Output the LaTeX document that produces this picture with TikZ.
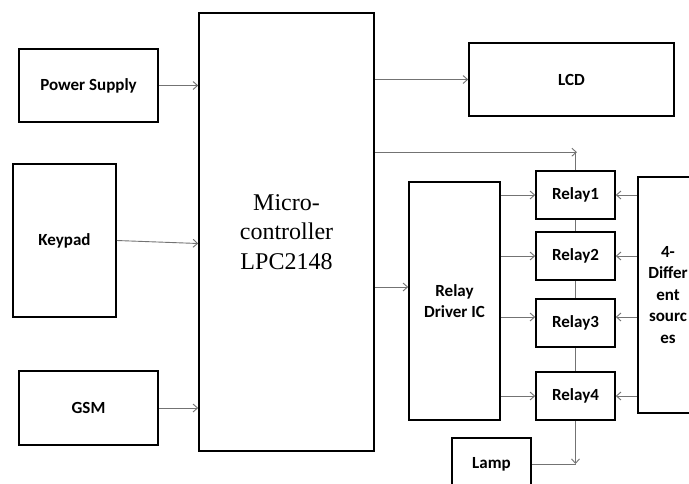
\documentclass[tikz,border=0pt]{standalone}
\usepackage{fontspec}
\setmainfont{Carlito}
\newfontfamily\serifit{Liberation Serif}
\usetikzlibrary{arrows.meta,calc}
\begin{document}
\begin{tikzpicture}[x=1pt,y=-1pt,
  blk/.style={draw=black,line width=1.6pt,fill=white,inner sep=0pt,align=center,
    font=\fontsize{17}{21.5}\selectfont\bfseries},
  conn/.style={draw=black!55,line width=0.9pt},
  arr/.style={conn,-{Straight Barb[length=4.5pt,width=8pt,line width=0.9pt]}}]
\clip (0,0) rectangle (689,483);
\fill[white] (0,0) rectangle (689,483);
\node[blk,minimum width=139pt,minimum height=73pt] (ps) at (88.5,85.5) {Power Supply};
\node[blk,minimum width=103pt,minimum height=153pt] (keypad) at (64.5,240.5) {Keypad};
\node[blk,minimum width=139pt,minimum height=74pt] (gsm) at (88.5,408) {GSM};
\node[blk,minimum width=175pt,minimum height=438pt,
  font=\serifit\fontsize{24}{29.5}\selectfont] (micro) at (286.5,232) {Micro-\\controller\\LPC2148};
\node[blk,minimum width=205pt,minimum height=73pt] (lcd) at (571.5,79.5) {LCD};
\node[blk,minimum width=91pt,minimum height=238pt] (driver) at (454.5,301) {Relay\\Driver IC};
\node[blk,minimum width=79pt,minimum height=48pt] (r1) at (575.5,195) {Relay1};
\node[blk,minimum width=79pt,minimum height=48pt] (r2) at (575.5,256) {Relay2};
\node[blk,minimum width=79pt,minimum height=48pt] (r3) at (575.5,323) {Relay3};
\node[blk,minimum width=79pt,minimum height=48pt] (r4) at (575.5,396) {Relay4};
\node[blk,minimum width=60pt,minimum height=236pt] (src) at (668,295) {4-\\Differ\\ent\\sourc\\es};
\node[blk,minimum width=79pt,minimum height=52pt] (lamp) at (491.5,464) {Lamp};
% inputs to micro
\draw[arr] (ps.east) -- (micro.west |- ps.east);
\draw[arr] (keypad.east) -- ($(micro.west |- keypad.east)+(0,3)$);
\draw[arr] (gsm.east) -- (micro.west |- gsm.east);
% micro outputs
\draw[arr] (micro.east |- lcd.west) -- (lcd.west);
\coordinate (j1) at ($(r1.north)+(0,-18)$);
\draw[conn] (r1.north) -- (j1);
\draw[arr] (micro.east |- j1) -- ($(j1)+(1.5,0)$);
\coordinate (dIn) at ($(driver.west)+(0,-14)$);
\draw[arr] (micro.east |- dIn) -- (dIn);
% driver to relays
\draw[arr] (driver.east |- r1.west) -- (r1.west);
\draw[arr] (driver.east |- r2.west) -- (r2.west);
\draw[arr] ($(driver.east |- r3.west)+(0,-6)$) -- ($(r3.west)+(0,-6)$);
\draw[arr] (driver.east |- r4.west) -- (r4.west);
% sources to relays
\draw[arr] (src.west |- r1.east) -- (r1.east);
\draw[arr] (src.west |- r2.east) -- (r2.east);
\draw[arr] ($(src.west |- r3.east)+(0,-6)$) -- ($(r3.east)+(0,-6)$);
\draw[arr] (src.west |- r4.east) -- (r4.east);
% relay chain
\draw[conn] (r1.south) -- (r2.north);
\draw[conn] (r2.south) -- (r3.north);
\draw[conn] (r3.south) -- (r4.north);
\coordinate (j2) at (r4.south |- lamp.east);
\draw[arr] (r4.south) -- (j2);
\draw[conn] (lamp.east) -- (j2);
\end{tikzpicture}
\end{document}
